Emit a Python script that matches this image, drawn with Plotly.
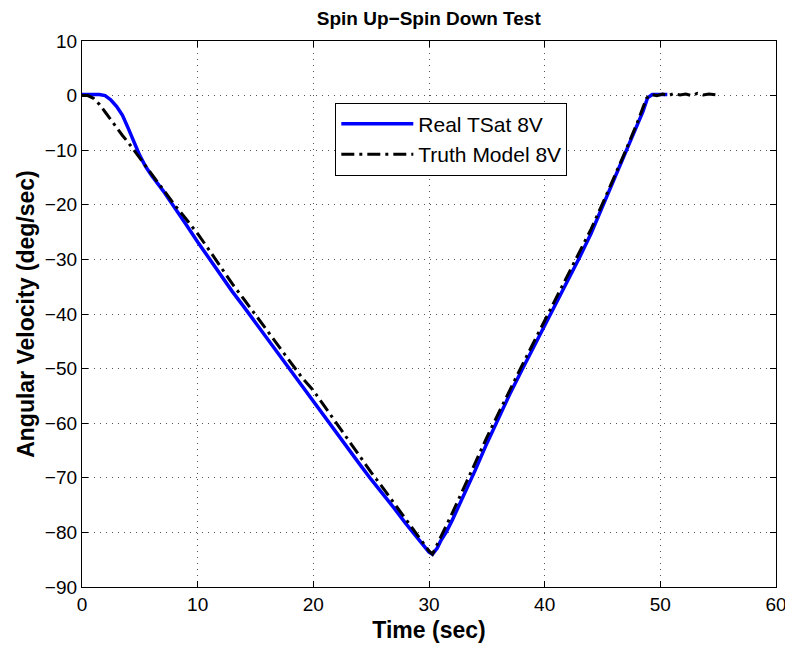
"""Spin Up-Spin Down test: real TSat vs truth model angular velocity."""
import plotly.graph_objects as go

FONT = "Liberation Sans, Arial, Helvetica, sans-serif"

# Real TSat 8V (time in s, angular velocity in deg/s)
real_t = [0, 0.5, 1, 1.5, 2, 2.5, 3, 3.5, 4, 4.5, 5, 5.5, 6, 7, 8, 9, 10,
          11, 12, 13, 14, 15, 16, 17, 18, 19, 20, 21, 22, 23, 24, 25, 26,
          27, 28, 29, 29.6, 30, 30.3, 30.7, 31, 31.5, 32, 33, 34, 35, 36,
          37, 38, 39, 40, 41, 42, 43, 44, 45, 46, 47, 48, 48.5, 48.9, 49.3,
          49.8, 50.3, 50.6]
real_w = [0.2, 0.2, 0.2, 0.2, 0.0, -0.8, -2.0, -3.6, -6.0, -8.6, -11.0,
          -13.0, -14.6, -17.4, -20.4, -23.6, -26.8, -29.9, -32.9, -35.9,
          -38.7, -41.6, -44.4, -47.3, -50.3, -53.2, -56.0, -58.9, -61.7,
          -64.7, -67.5, -70.3, -72.9, -75.6, -78.4, -81.0, -82.6, -83.6,
          -84.0, -82.9, -81.6, -79.9, -77.8, -73.3, -68.6, -63.7, -59.0,
          -54.6, -50.4, -46.3, -42.1, -38.0, -33.8, -29.7, -25.3, -20.4,
          -15.5, -10.6, -5.4, -2.9, -0.4, 0.2, 0.2, 0.2, 0.2]

# Truth Model 8V
truth_t = [0, 0.5, 1, 1.5, 2, 2.5, 3, 3.5, 4, 5, 6, 7, 8, 9, 10, 11, 12,
           13, 14, 15, 16, 17, 18, 19, 20, 21, 22, 23, 24, 25, 26, 27, 28,
           29, 30, 30.3, 31, 32, 33, 34, 35, 36, 37, 38, 39, 40, 41, 42,
           43, 44, 45, 46, 47, 48, 48.8, 49.2, 49.7, 50.2, 50.7, 51.2,
           51.7, 52.2, 52.7, 53.2, 53.7, 54.2, 54.9]
truth_w = [0.0, 0.0, -0.5, -1.6, -3.0, -4.5, -6.0, -7.3, -8.6, -11.5, -14.3,
           -17.2, -20.0, -22.6, -25.3, -28.3, -31.4, -34.5, -37.3, -40.2,
           -43.0, -45.8, -48.7, -51.6, -54.0, -57.0, -60.0, -63.1, -66.0,
           -69.0, -71.8, -74.8, -77.6, -80.5, -83.4, -84.0, -81.0, -76.5,
           -71.9, -67.2, -62.6, -58.2, -53.8, -49.6, -45.4, -41.2, -37.0,
           -32.9, -28.8, -24.5, -19.8, -15.0, -10.1, -5.0, -0.5, 0.2, 0.0,
           0.3, 0.0, 0.4, 0.1, 0.3, 0.0, 0.4, 0.1, 0.3, 0.1]

fig = go.Figure()
fig.add_trace(go.Scatter(
    x=real_t, y=real_w, mode="lines", name="Real TSat 8V",
    line=dict(color="#0000ff", width=3.5),
))
fig.add_trace(go.Scatter(
    x=truth_t, y=truth_w, mode="lines", name="Truth Model 8V",
    line=dict(color="#000000", width=3, dash="13px,5px,3px,5px"),
))

axis_common = dict(
    showline=True, linecolor="black", linewidth=1.3, mirror="ticks",
    ticks="inside", ticklen=6, tickcolor="black", tickwidth=1,
    showgrid=True, gridcolor="#555555", gridwidth=1, griddash="1px,5px",
    zeroline=False, automargin=False,
    tickfont=dict(family=FONT, size=19, color="black"),
)

fig.update_xaxes(
    range=[0, 60], dtick=10, **axis_common,
    title=dict(text="<b>Time (sec)</b>", standoff=7,
               font=dict(family=FONT, size=23, color="black")),
)
fig.update_yaxes(
    range=[-90, 10], dtick=10, **axis_common,
    title=dict(text="<b>Angular Velocity (deg/sec)</b>", standoff=3,
               font=dict(family=FONT, size=23, color="black")),
)

# the page body adds an 8px offset, so margins are shifted to compensate
fig.update_layout(
    width=785, height=635,
    margin=dict(l=74, r=17, t=33, b=56),
    paper_bgcolor="white", plot_bgcolor="white",
    title=dict(text="<b>Spin Up\u2212Spin Down Test</b>", x=0.536, xanchor="center",
               y=0.984, yanchor="middle",
               font=dict(family=FONT, size=19, color="black")),
    legend=dict(
        x=0.365, y=0.887, xanchor="left", yanchor="top",
        bgcolor="white", bordercolor="black", borderwidth=1,
        font=dict(family=FONT, size=21, color="black"),
        itemwidth=72, tracegroupgap=0,
    ),
    showlegend=True,
)

fig.write_html("out.html")
